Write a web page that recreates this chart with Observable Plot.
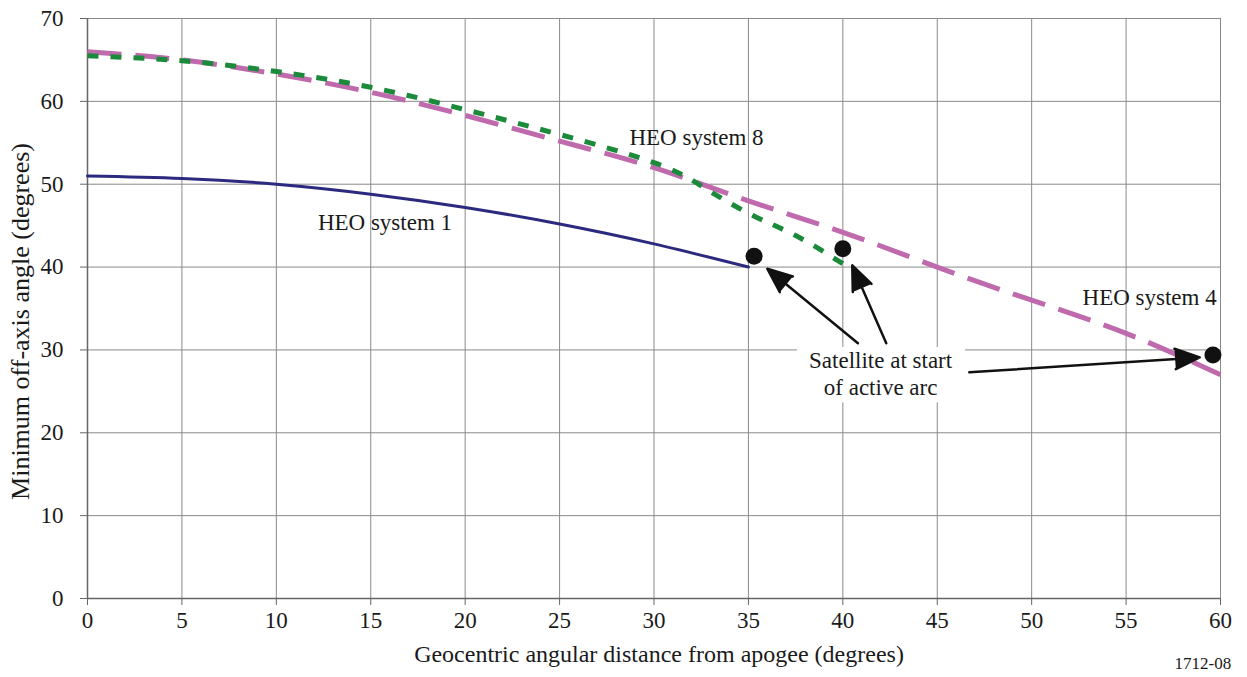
<!DOCTYPE html>
<html>
<head>
<meta charset="utf-8">
<script src="https://cdn.jsdelivr.net/npm/d3@7"></script>
<script src="https://cdn.jsdelivr.net/npm/@observablehq/plot@0.6"></script>
<style>
  html, body { margin: 0; padding: 0; background: #fff; }
  #chart { width: 1247px; height: 677px; overflow: hidden; }
</style>
</head>
<body>
<div id="chart"></div>
<script>
// Tick values
const xTicks = [0, 5, 10, 15, 20, 25, 30, 35, 40, 45, 50, 55, 60];
const yTicks = [0, 10, 20, 30, 40, 50, 60, 70];

// HEO system 1 (solid navy)
const heo1X = [0, 5, 10, 15, 20, 25, 30, 35];
const heo1Y = [51, 50.7, 50, 48.8, 47.2, 45.2, 42.8, 40];

// HEO system 4 (long-dash magenta)
const heo4X = [0, 5, 10, 15, 20, 25, 30, 35, 40, 45, 50, 55, 60];
const heo4Y = [66, 65.0, 63.3, 61.1, 58.3, 55.2, 52.0, 48.0, 44.2, 40.0, 36.0, 32.0, 27.0];

// HEO system 8 (short-dash green)
const heo8X = [0, 5, 10, 15, 20, 25, 30, 32.5, 35, 37.5, 40];
const heo8Y = [65.5, 64.9, 63.6, 61.7, 59.0, 56.0, 52.6, 49.8, 46.5, 43.8, 40.4];

// Satellite at start of active arc (dots)
const satX = [35.3, 40.0, 59.6];
const satY = [41.3, 42.2, 29.4];

// Series labels
const labelText = ["HEO system 1", "HEO system 8", "HEO system 4"];
const labelX = [12.2, 28.7, 59.8];
const labelY = [45.4, 55.6, 36.3];
const labelAnchor = ["start", "start", "end"];

// Annotation
const noteLines = ["Satellite at start", "of active arc"];
const noteX = [42.0, 42.0];
const noteY = [28.7, 25.4];
const noteBox = [{x1: 37.6, x2: 46.5, y1: 23.6, y2: 30.3}];

// Arrows from annotation to dots
const arrowX1 = [40.8, 42.3, 46.7];
const arrowY1 = [30.8, 30.8, 27.3];
const arrowX2 = [36.0, 40.5, 58.9];
const arrowY2 = [39.8, 40.2, 29.1];

const toPts = (xs, ys) => xs.map((x, i) => ({x, y: ys[i]}));
const heo1 = toPts(heo1X, heo1Y);
const heo4 = toPts(heo4X, heo4Y);
const heo8 = toPts(heo8X, heo8Y);
const sats = toPts(satX, satY);
const labels = labelText.map((t, i) => ({t, x: labelX[i], y: labelY[i], a: labelAnchor[i]}));
const labelsStart = labels.filter(d => d.a === "start");
const labelsEnd = labels.filter(d => d.a === "end");
const notes = noteLines.map((t, i) => ({t, x: noteX[i], y: noteY[i]}));
const arrows = arrowX1.map((x1, i) => ({x1, y1: arrowY1[i], x2: arrowX2[i], y2: arrowY2[i]}));

const font = "'Liberation Serif', 'DejaVu Serif', serif";
const fs = 23;
const ink = "#1a1a1a";

const plot = Plot.plot({
  width: 1247,
  height: 677,
  marginLeft: 87,
  marginRight: 27,
  marginTop: 18,
  marginBottom: 79,
  style: {fontFamily: font, fontSize: "23px", color: ink, background: "#fff", overflow: "hidden"},
  x: {domain: [0, 60]},
  y: {domain: [0, 70]},
  marks: [
    Plot.gridX(xTicks, {stroke: "#8a8a8a", strokeOpacity: 1, strokeWidth: 1}),
    Plot.gridY(yTicks, {stroke: "#8a8a8a", strokeOpacity: 1, strokeWidth: 1}),
    Plot.frame({stroke: "#8a8a8a", strokeWidth: 1}),
    Plot.rect(noteBox, {x1: "x1", x2: "x2", y1: "y1", y2: "y2", fill: "#fff"}),
    Plot.ruleX([0], {stroke: "#666", strokeWidth: 1.5}),
    Plot.ruleY([0], {stroke: "#666", strokeWidth: 1.5}),
    Plot.axisX(xTicks, {tickSize: 7, tickPadding: 6, label: null, fontSize: fs, fontFamily: font, stroke: "#666", fill: ink}),
    Plot.axisY(yTicks, {tickSize: 7, tickPadding: 17, label: null, fontSize: fs, fontFamily: font, stroke: "#666", fill: ink}),
    Plot.line(heo1, {x: "x", y: "y", stroke: "#2b2a7e", strokeWidth: 3, curve: "natural"}),
    Plot.line(heo4, {x: "x", y: "y", stroke: "#c06aae", strokeWidth: 5, strokeDasharray: "34,14", curve: "natural", strokeLinecap: "butt"}),
    Plot.line(heo8, {x: "x", y: "y", stroke: "#1b8a3a", strokeWidth: 5, strokeDasharray: "11,12", curve: "natural", strokeLinecap: "butt"}),
    Plot.dot(sats, {x: "x", y: "y", r: 8.5, fill: "#111", stroke: "none"}),
    Plot.arrow(arrows, {x1: "x1", y1: "y1", x2: "x2", y2: "y2", stroke: "#111", fill: "#111", strokeWidth: 2.5, headLength: 16, headAngle: 45}),
    Plot.text(labelsStart, {x: "x", y: "y", text: "t", textAnchor: "start", fontSize: fs, fontFamily: font, fill: ink}),
    Plot.text(labelsEnd, {x: "x", y: "y", text: "t", textAnchor: "end", fontSize: fs, fontFamily: font, fill: ink}),
    Plot.text(notes, {x: "x", y: "y", text: "t", fontSize: fs, fontFamily: font, fill: ink}),
    Plot.text(["Minimum off-axis angle (degrees)"], {frameAnchor: "left", textAnchor: "middle", rotate: -90, dx: -67, dy: 13, fontSize: 26, fontFamily: font, fill: ink}),
    Plot.text(["Geocentric angular distance from apogee (degrees)"], {frameAnchor: "bottom", textAnchor: "middle", dx: 5, dy: 63, fontSize: 24, fontFamily: font, fill: ink}),
    Plot.text(["1712-08"], {frameAnchor: "bottom-right", textAnchor: "start", dx: -46, dy: 70, fontSize: 17, fontFamily: font, fill: ink})
  ]
});
document.getElementById("chart").appendChild(plot);
</script>
</body>
</html>
